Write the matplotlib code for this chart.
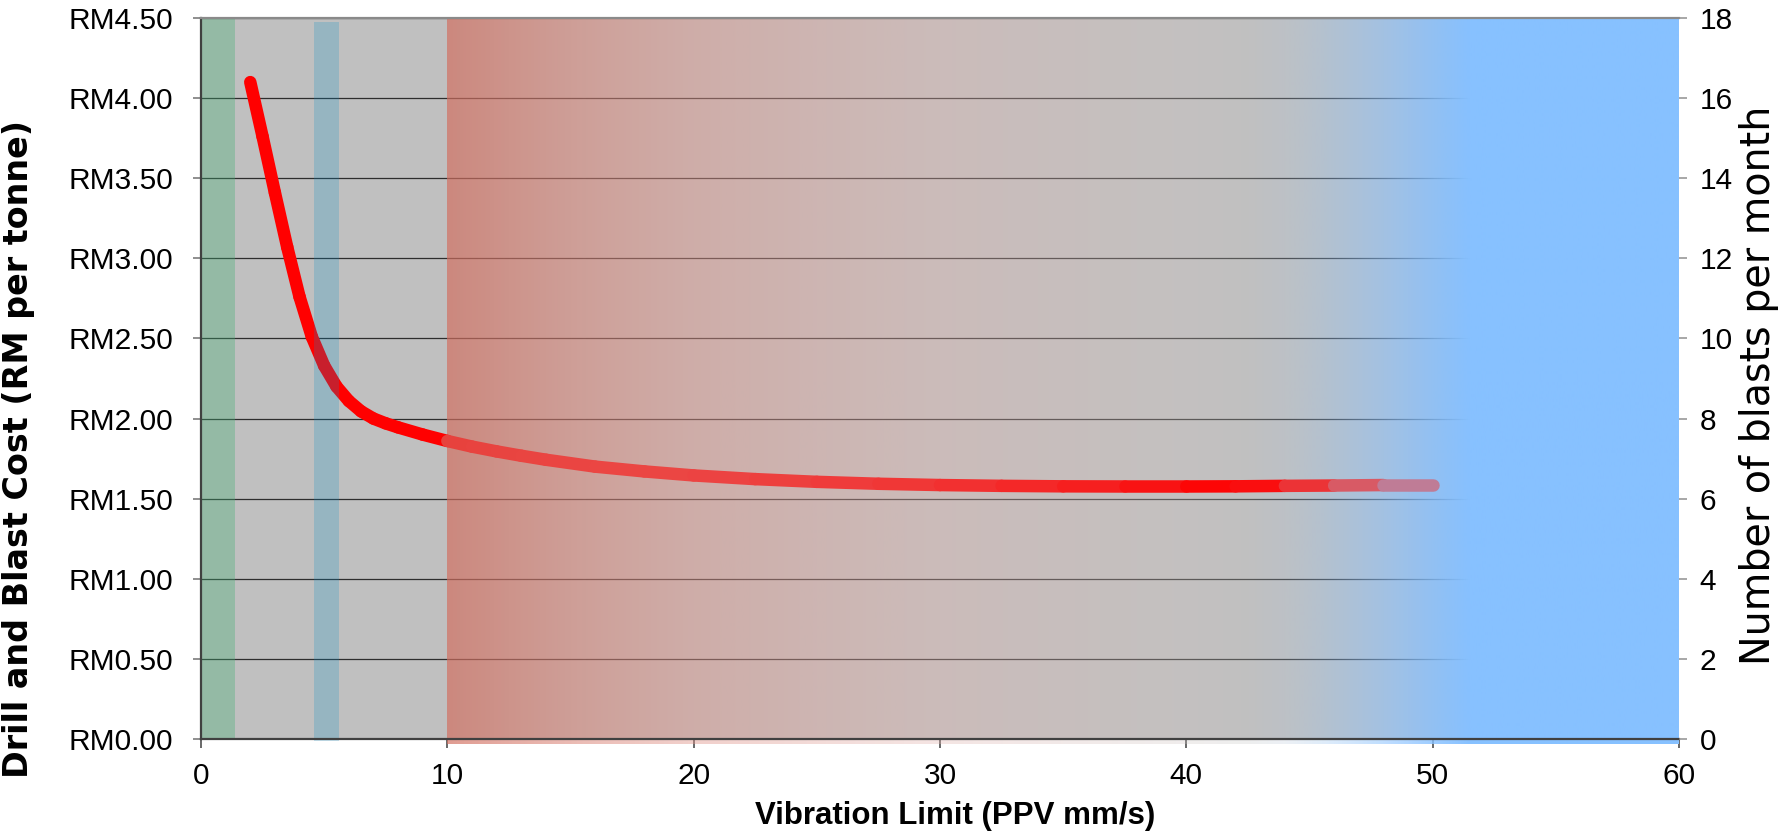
import numpy as np
import matplotlib
matplotlib.use("Agg")
import matplotlib.pyplot as plt
from matplotlib.collections import LineCollection

# ---------------- data ----------------
vib_limit = [2.0, 2.5, 3.0, 3.5, 4.0, 4.5, 5.0, 5.5, 6.0, 6.5, 7.0, 7.5, 8.0, 9.0,
             10.0, 11.0, 12.0, 13.0, 14.0, 16.0, 18.0, 20.0, 22.5, 25.0, 27.5, 30.0,
             32.5, 35.0, 37.5, 40.0, 42.0, 44.0, 46.0, 48.0, 50.0]
cost = [4.10, 3.76, 3.41, 3.07, 2.76, 2.51, 2.33, 2.20, 2.11, 2.045, 2.00, 1.97, 1.945, 1.90,
        1.86, 1.825, 1.795, 1.768, 1.743, 1.70, 1.67, 1.645, 1.622, 1.605, 1.593, 1.585,
        1.58, 1.577, 1.576, 1.576, 1.577, 1.58, 1.582, 1.585, 1.585]

green_zone = [0.0, 1.4]
blue_zone = [4.6, 5.6]

x_ticks = [0, 10, 20, 30, 40, 50, 60]
cost_ticks = [0.0, 0.5, 1.0, 1.5, 2.0, 2.5, 3.0, 3.5, 4.0, 4.5]
blast_ticks = [0, 2, 4, 6, 8, 10, 12, 14, 16, 18]

x_label = "Vibration Limit (PPV mm/s)"
y_label = "Drill and Blast Cost (RM per tonne)"
y2_label = "Number of blasts per month"

# background gradient overlay stops: x, r, g, b, alpha
grad_x = [10, 15, 20, 30, 40, 42.5, 44, 46, 48, 50, 51.5, 60]
grad_r = [210, 218, 225, 225, 205, 195, 180, 150, 140, 135, 135, 135]
grad_g = [110, 130, 150, 180, 195, 195, 196, 196, 195, 193, 193, 193]
grad_b = [95, 117, 140, 175, 193, 195, 215, 245, 255, 255, 255, 255]
grad_a = [0.68, 0.55, 0.45, 0.35, 0.30, 0.28, 0.25, 0.35, 0.55, 0.80, 1.0, 1.0]

# line opacity along x
line_alpha_x = [2, 9.99, 10, 20, 30, 37, 42, 44, 46, 48, 50]
line_alpha_v = [1, 1, 0.52, 0.60, 0.72, 0.85, 1.0, 0.85, 0.62, 0.45, 0.27]

# ---------------- figure ----------------
plt.rcParams['font.family'] = ['Liberation Sans', 'DejaVu Sans']
W, H, DPI = 1783, 832, 100
fig = plt.figure(figsize=(W / DPI, H / DPI), dpi=DPI)
ax = fig.add_axes([201 / W, 1 - 739 / H, (1679 - 201) / W, (739 - 18) / H])

GREY = np.array([192, 192, 192]) / 255
ax.set_facecolor(GREY)
ax.set_xlim(0, 60)
ax.set_ylim(0, 4.5)
ax.set_axisbelow(True)
ax.yaxis.grid(True, color='#2e2e2e', linewidth=0.9, zorder=0.5)
ax.xaxis.grid(False)

# gradient overlay
gx = np.linspace(10, 60, 1000)
rgba = np.zeros((1, gx.size, 4))
rgba[0, :, 0] = np.interp(gx, grad_x, grad_r) / 255
rgba[0, :, 1] = np.interp(gx, grad_x, grad_g) / 255
rgba[0, :, 2] = np.interp(gx, grad_x, grad_b) / 255
rgba[0, :, 3] = np.interp(gx, grad_x, grad_a)
ax.imshow(rgba, extent=(10, 60, -0.03, 4.5), aspect='auto', interpolation='bilinear',
          zorder=1, clip_on=False)


def bg_color(x):
    if x < 10:
        return GREY
    c = np.array([np.interp(x, grad_x, grad_r), np.interp(x, grad_x, grad_g),
                  np.interp(x, grad_x, grad_b)]) / 255
    a = np.interp(x, grad_x, grad_a)
    return GREY * (1 - a) + c * a


# cost line with fading colour
pts = np.column_stack([vib_limit, cost])
segs = np.stack([pts[:-1], pts[1:]], axis=1)
red = np.array([1.0, 0.0, 0.0])
cols = []
for s in segs:
    xm = 0.5 * (s[0, 0] + s[1, 0])
    la = np.interp(xm, line_alpha_x, line_alpha_v)
    cols.append(tuple(red * la + bg_color(xm) * (1 - la)))
lc = LineCollection(segs, colors=cols, linewidths=9.0, capstyle='round',
                    joinstyle='round', zorder=3)
ax.add_collection(lc)

# vertical bands
ax.axvspan(green_zone[0], green_zone[1], ymin=0, ymax=1, color=(66 / 255, 175 / 255, 115 / 255),
           alpha=0.35, lw=0, zorder=4)
ax.axvspan(blue_zone[0], blue_zone[1], ymin=-0.003, ymax=0.9945, color=(5 / 255, 142 / 255, 201 / 255),
           alpha=0.22, lw=0, zorder=4, clip_on=False)

# axes styling
ax.set_xticks(x_ticks)
ax.set_yticks(cost_ticks)
ax.set_yticklabels([f"RM{v:.2f}" for v in cost_ticks])
ax.tick_params(axis='x', direction='out', length=6.5, width=1.1, color='#404040',
               labelsize=21.5, pad=10)
ax.tick_params(axis='y', direction='out', length=6, width=1.1, color='#707070',
               labelsize=21.5, pad=14)
ax.spines['right'].set_visible(False)
ax.spines['top'].set_color('#8a8a8a')
ax.spines['top'].set_linewidth(1.6)
ax.spines['left'].set_color('#404040')
ax.spines['left'].set_linewidth(1.6)
ax.spines['bottom'].set_color('#404040')
ax.spines['bottom'].set_linewidth(1.6)
for s in ax.spines.values():
    s.set_zorder(5)

ax2 = ax.twinx()
ax2.set_ylim(0, 18)
ax2.set_yticks(blast_ticks)
for s in ax2.spines.values():
    s.set_visible(False)
ax2.tick_params(axis='y', direction='out', length=6, width=1.1, color='#909090',
                labelsize=21.5, pad=9)

fig.text(955 / W, 1 - 816 / H, x_label, fontsize=22.5, fontweight='bold',
         ha='center', va='center')
fig.text(19 / W, 1 - 449 / H, y_label, fontsize=24, fontweight='bold',
         family=['DejaVu Sans'], rotation=90, ha='center', va='center')
fig.text(1759 / W, 1 - 385 / H, y2_label, fontsize=28.5, family=['DejaVu Sans'],
         rotation=90, ha='center', va='center')

fig.savefig("out.png", dpi=DPI)
